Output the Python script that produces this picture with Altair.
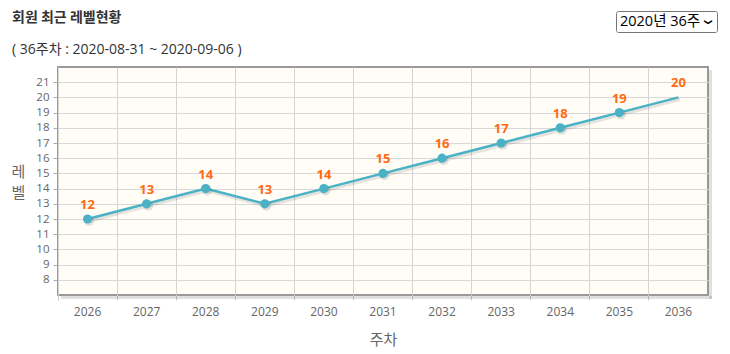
import altair as alt
import pandas as pd

# ---- data ----
weeks = ["2026", "2027", "2028", "2029", "2030", "2031", "2032", "2033", "2034", "2035", "2036"]
levels = [12, 13, 14, 13, 14, 15, 16, 17, 18, 19, 20]
y_ticks = list(range(8, 22))
y_domain = [7, 22]

title_text = "회원 최근 레벨현황"
subtitle_text = "( 36주차 : 2020-08-31 ~ 2020-09-06 )"
select_text = "2020년 36주"
x_title = "주차"
y_title = ["레", "벨"]

df = pd.DataFrame({"week": weeks, "level": levels})
dummy = pd.DataFrame({"d": [0]})

W, H = 650, 228
FONT = "Open Sans, Noto Sans CJK KR, sans-serif"
KFONT = "Noto Sans CJK KR, sans-serif"
LINE_C = "#4bb2c5"
LABEL_C = "#ff6a13"
AXIS_C = "#666666"

x = alt.X(
    "week:O",
    sort=weeks,
    scale=alt.Scale(type="band", paddingInner=0, paddingOuter=0),
    axis=alt.Axis(
        title=x_title, bandPosition=0, grid=True, tickExtra=True, labelAngle=0,
        domain=False, ticks=True, tickSize=5, tickColor="#cccccc", gridColor="#d4d4d4",
        labelColor=AXIS_C, labelFont=FONT, labelFontSize=12, labelPadding=6,
        titleColor=AXIS_C, titleFont=KFONT, titleFontSize=15, titleFontWeight="normal",
        titlePadding=15,
    ),
)
y = alt.Y(
    "level:Q",
    scale=alt.Scale(domain=y_domain, nice=False, zero=False),
    axis=alt.Axis(
        values=y_ticks, grid=True, domain=False, ticks=True, tickSize=5,
        tickColor="#aaaaaa", gridColor="#d8d8d8",
        labelColor=AXIS_C, labelFont=FONT, labelFontSize=11.5, labelPadding=4,
        title=y_title, titleAngle=0, titleX=-40, titleY=H / 2 - 10,
        titleAlign="center", titleBaseline="middle",
        titleColor=AXIS_C, titleFont=KFONT, titleFontSize=15, titleFontWeight="normal",
        titleLineHeight=21,
    ),
)

base = alt.Chart(df)

line_shadow = base.mark_line(color="#000000", opacity=0.1, strokeWidth=3.5,
                             xOffset=1.5, yOffset=2).encode(x=x, y=y)
line = base.mark_line(color=LINE_C, strokeWidth=2.5).encode(x=x, y=y)

marked = base.transform_filter(alt.datum.week != weeks[-1])
pt_shadow = marked.mark_point(filled=True, color="#000000", opacity=0.12, size=95,
                              xOffset=1.5, yOffset=2).encode(x=x, y=y)
pts = marked.mark_point(filled=True, color=LINE_C, opacity=1, size=85).encode(x=x, y=y)

labels = base.mark_text(color=LABEL_C, fontWeight="bold", fontSize=13, dy=-14,
                        font=FONT).encode(x=x, y=y, text="level:Q")

# frame shadow (decoration)
deco = alt.Chart(dummy)
shadow_r = deco.mark_rect(color="#000000", opacity=0.12).encode(
    x=alt.value(W + 1), x2=alt.value(W + 4), y=alt.value(3), y2=alt.value(H + 4))
shadow_b = deco.mark_rect(color="#000000", opacity=0.12).encode(
    x=alt.value(3), x2=alt.value(W + 4), y=alt.value(H + 1), y2=alt.value(H + 4))

# header texts
title = deco.mark_text(align="left", baseline="middle", font=KFONT, fontSize=14,
                       fontWeight="bold", color="#333333").encode(
    x=alt.value(-46), y=alt.value(-49), text=alt.value(title_text))
subtitle = deco.mark_text(align="left", baseline="middle", font=FONT, fontSize=14,
                          color="#333333").encode(
    x=alt.value(-46), y=alt.value(-17), text=alt.value(subtitle_text))

# dropdown
sel_box = deco.mark_rect(fill="#ffffff", stroke="#767676", strokeWidth=1, cornerRadius=2).encode(
    x=alt.value(558.5), x2=alt.value(659.5), y=alt.value(-55.5), y2=alt.value(-34.5))
sel_text = deco.mark_text(align="left", baseline="middle", font=FONT, fontSize=14.5,
                          color="#000000").encode(
    x=alt.value(562), y=alt.value(-45), text=alt.value(select_text))
sel_arrow = deco.mark_text(align="center", baseline="middle", font="DejaVu Sans", fontSize=8,
                           fontWeight="bold", angle=90, color="#000000").encode(
    x=alt.value(650), y=alt.value(-45), text=alt.value("❯"))

chart = alt.layer(
    shadow_r, shadow_b, line_shadow, line, pt_shadow, pts, labels,
    title, subtitle, sel_box, sel_text, sel_arrow,
).properties(
    width=W, height=H,
    autosize=alt.AutoSizeParams(type="none"),
    padding={"left": 58, "top": 67, "right": 22, "bottom": 59},
    background="#ffffff",
).configure_view(
    fill="#fffdf6", stroke="#999999", strokeWidth=2,
)

chart.save("out.html", embed_options={"renderer": "svg", "actions": False})
